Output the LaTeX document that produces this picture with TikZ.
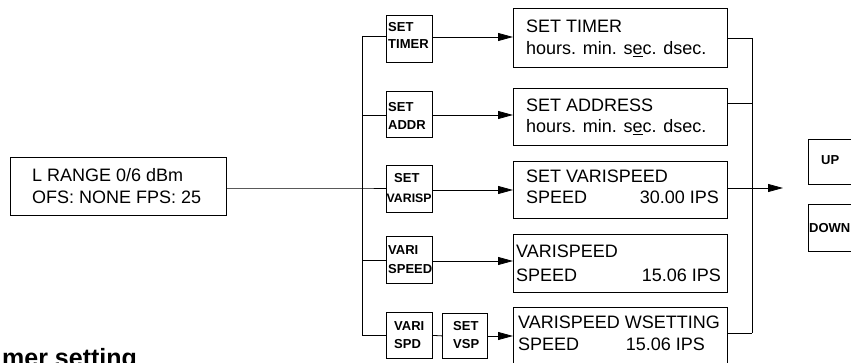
\documentclass[tikz,border=0pt]{standalone}
\usepackage{fontspec}
\setmainfont{Liberation Sans}
\usetikzlibrary{arrows.meta}
\begin{document}
\begin{tikzpicture}[x=1pt,y=-1pt,
  box/.style={draw, line width=0.8pt, rectangle, inner sep=0pt, anchor=north west},
  big/.style={inner sep=0pt, font=\fontsize{18}{22}\selectfont},
  sml/.style={inner sep=0pt, font=\fontsize{13}{15}\selectfont\bfseries},
  conn/.style={line width=0.8pt},
  arr/.style={line width=0.8pt, -{Triangle[length=15pt,width=8pt]}}]
\useasboundingbox (0,0) rectangle (851,363);

% main box
\node[box, minimum width=216pt, minimum height=58pt] (main) at (10,157) {};
\node[big, anchor=base west] (mainA) at (32,182) {L RANGE 0/6 dBm};
\node[big, anchor=base west] (mainB) at (32,204) {OFS: NONE FPS: 25};

% small boxes
\node[box, minimum width=46pt, minimum height=47pt] (st) at (386,15) {};
\node[sml, anchor=base west] (stA) at (388,32) {SET};
\node[sml, anchor=base west] (stB) at (388,49) {TIMER};

\node[box, minimum width=46pt, minimum height=46pt] (sa) at (386,91) {};
\node[sml, anchor=base west] (saA) at (388,112) {SET};
\node[sml, anchor=base west] (saB) at (388,130) {ADDR};

\node[box, minimum width=46pt, minimum height=47pt] (sv) at (386,165) {};
\node[sml, anchor=base west] (svA) at (394,183) {SET};
\node[sml, anchor=base west, font=\fontsize{12.3}{15}\selectfont\bfseries] (svB) at (386.5,203) {VARISP};

\node[box, minimum width=46pt, minimum height=47pt] (vs) at (386,236) {};
\node[sml, anchor=base west] (vsA) at (388,255) {VARI};
\node[sml, anchor=base west] (vsB) at (388,273) {SPEED};

\node[box, minimum width=46pt, minimum height=46pt] (vd) at (386,312) {};
\node[sml, anchor=base west] (vdA) at (394,330) {VARI};
\node[sml, anchor=base west] (vdB) at (394,348) {SPD};

\node[box, minimum width=45pt, minimum height=45pt] (sp) at (442,313) {};
\node[sml, anchor=base west] (spA) at (453,330) {SET};
\node[sml, anchor=base west] (spB) at (453,348) {VSP};

% big boxes
\node[box, minimum width=214pt, minimum height=59pt] (bt) at (513,8) {};
\node[big, anchor=base west] (btA) at (526,33) {SET TIMER};
\node[big, anchor=base west] (btB) at (526,55) {hours. min. s\underline{e}c. dsec.};

\node[box, minimum width=214pt, minimum height=57pt] (ba) at (513,88) {};
\node[big, anchor=base west] (baA) at (526,112) {SET ADDRESS};
\node[big, anchor=base west] (baB) at (526,133) {hours. min. s\underline{e}c. dsec.};

\node[box, minimum width=214pt, minimum height=57pt] (bv) at (513,161) {};
\node[big, anchor=base west] (bvA) at (526,183) {SET VARISPEED};
\node[big, anchor=base west] (bvB) at (526,204) {SPEED};
\node[big, anchor=base east] (bvC) at (719,204) {30.00 IPS};

\node[box, minimum width=214pt, minimum height=58pt] (bs) at (513,234) {};
\node[big, anchor=base west] (bsA) at (516,258) {VARISPEED};
\node[big, anchor=base west] (bsB) at (516,281) {SPEED};
\node[big, anchor=base east] (bsC) at (721,281) {15.06 IPS};

\node[box, minimum width=214pt, minimum height=62pt] (bw) at (513,307) {};
\node[big, anchor=base west] (bwA) at (518,328) {VARISPEED WSETTING};
\node[big, anchor=base west] (bwB) at (518,350) {SPEED};
\node[big, anchor=base east] (bwC) at (705,350) {15.06 IPS};

% UP / DOWN
\node[box, minimum width=60pt, minimum height=45pt] (up) at (808,139) {};
\node[sml, anchor=base west] (upA) at (821,165) {UP};
\node[box, minimum width=60pt, minimum height=47pt] (dn) at (808,204) {};
\node[sml, anchor=base west] (dnA) at (809,233) {DOWN};

% heading (cut off by the page edge)
\node[inner sep=0pt, anchor=base west, font=\fontsize{25}{30}\selectfont\bfseries] (hd) at (2,366) {mer setting};

% left bus
\coordinate (lb1) at (362,36);
\coordinate (lb2) at (362,115);
\coordinate (lb3) at (362,188);
\coordinate (lb4) at (362,260);
\coordinate (lb5) at (362,335);
\draw[conn] (lb1) -- (lb5);
\draw[conn] (main.east |- lb3) -- (lb3) -- (sv.west |- lb3);
\draw[conn] (lb1) -- (st.west |- lb1);
\draw[conn] (lb2) -- (sa.west |- lb2);
\draw[conn] (lb4) -- (vs.west |- lb4);
\draw[conn] (lb5) -- (vd.west |- lb5);
\draw[conn] (vd.east) -- (sp.west);

% arrows to big boxes
\draw[arr] (st.east |- 0,37) -- (bt.west |- 0,37);
\draw[arr] (sa.east |- 0,115) -- (ba.west |- 0,115);
\draw[arr] (sv.east |- 0,190) -- (bv.west |- 0,190);
\draw[arr] (vs.east |- 0,261) -- (bs.west |- 0,261);
\draw[arr] (sp.east |- 0,336) -- (bw.west |- 0,336);

% right bus
\coordinate (rb1) at (752,38);
\coordinate (rb2) at (752,103);
\coordinate (rb3) at (752,188);
\coordinate (rb4) at (752,333);
\coordinate (rout) at (783,188);
\draw[conn] (rb1) -- (rb4);
\draw[conn] (bt.east |- rb1) -- (rb1);
\draw[conn] (ba.east |- rb2) -- (rb2);
\draw[conn] (bw.east |- rb4) -- (rb4);
\draw[arr] (bv.east |- rb3) -- (rout);
\end{tikzpicture}
\end{document}
